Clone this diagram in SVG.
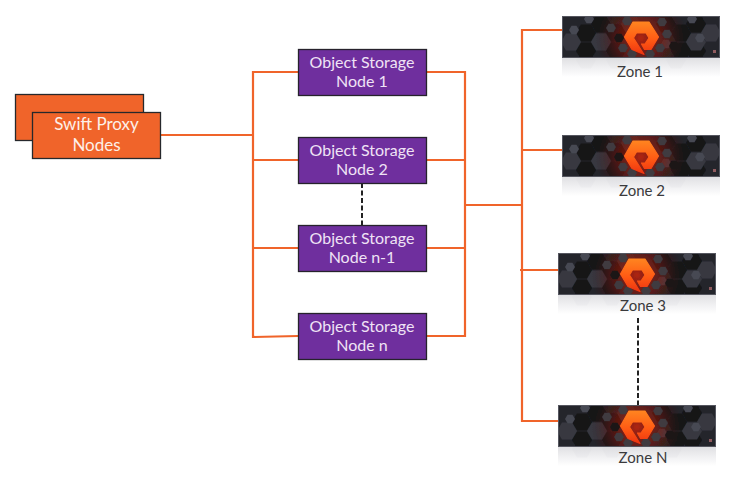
<svg xmlns="http://www.w3.org/2000/svg" width="736" height="490" viewBox="0 0 736 490">
<style>
.orange{fill:#f0642a;stroke:#26282c;stroke-width:1.3}
.purple{fill:#6f2f9e;stroke:#26222c;stroke-width:1.3}
.lbl{font-family:"Lato","Open Sans",sans-serif;font-size:16px;text-anchor:middle}
.big{font-size:17px}
.w{fill:#fdf0e8}
.p{fill:#efe3f5}
.z{font-family:"Lato","Open Sans",sans-serif;font-size:15px;text-anchor:middle;fill:#3a3a3c}
.wire{fill:none;stroke:#f0642a;stroke-width:2.200}
.dash{fill:none;stroke:#222;stroke-width:2;stroke-dasharray:5 2.5}
</style>
<defs>
<polygon id="h" points="-10,0 -5,-8.4 5,-8.4 10,0 5,8.4 -5,8.4"/>
<polygon id="s" points="-5,0 -2.500,-4.300 2.500,-4.300 5,0 2.500,4.300 -2.500,4.300"/>
<radialGradient id="glow" gradientUnits="userSpaceOnUse" cx="79" cy="22" r="46">
<stop offset="0" stop-color="#c0240c" stop-opacity=".9"/><stop offset=".5" stop-color="#7a180c" stop-opacity=".6"/><stop offset="1" stop-color="#3a1014" stop-opacity="0"/>
</radialGradient>
<linearGradient id="logo" x1="0" y1="0" x2="0" y2="1">
<stop offset="0" stop-color="#ff8420"/><stop offset=".55" stop-color="#ff5a14"/><stop offset="1" stop-color="#ee3410"/>
</linearGradient>
<linearGradient id="refl" x1="0" y1="0" x2="0" y2="1">
<stop offset="0" stop-color="#dedee1" stop-opacity=".95"/><stop offset=".55" stop-color="#f0f0f2" stop-opacity=".9"/><stop offset="1" stop-color="#fff"/>
</linearGradient>
<filter id="soft" x="-5%" y="-5%" width="110%" height="110%"><feGaussianBlur stdDeviation=".6"/></filter>
<clipPath id="face"><rect width="158" height="42"/></clipPath>
<g id="array">
<g fill="#d2d2d6"><use href="#h" x="24" y="44"/><use href="#h" x="54" y="44"/><use href="#h" x="114" y="44"/></g>
<rect y="42" width="158" height="19" fill="url(#refl)"/>
<rect width="158" height="42" fill="#24252b"/>
<g clip-path="url(#face)" filter="url(#soft)">
<g fill="#141519">
<use href="#h" x="39" y="8"/><use href="#h" x="24" y="17"/><use href="#h" x="24" y="35"/><use href="#h" x="54" y="17"/><use href="#h" x="54" y="35"/>
<use href="#h" x="104" y="8"/><use href="#h" x="119" y="17"/><use href="#h" x="134" y="8"/><use href="#h" x="134" y="35"/><use href="#h" x="119" y="35"/>
</g>
<g fill="#373840">
<use href="#h" x="9" y="26"/><use href="#h" x="39" y="26"/><use href="#h" x="69" y="8"/><use href="#h" x="134" y="26"/><use href="#h" x="149" y="17"/>
</g>
<g fill="#474852">
<use href="#s" x="27" y="3"/><use href="#s" x="12" y="14"/><use href="#s" x="130" y="3"/><use href="#s" x="138" y="22"/><use href="#s" x="104" y="28"/>
</g>
<rect width="158" height="42" fill="url(#glow)"/>
<g fill="#3f3a40">
<use href="#s" x="49" y="12"/><use href="#s" x="61" y="32"/><use href="#s" x="65" y="5"/><use href="#s" x="57" y="22" fill="#1b1416"/><use href="#s" x="100" y="6"/><use href="#s" x="105" y="18"/><use href="#s" x="98" y="32"/><use href="#s" x="88" y="38"/><use href="#s" x="70" y="38"/><use href="#s" x="112" y="30" fill="#1b1416"/>
</g>
</g>
<path d="M82,38.500 L70,33.500 L62.500,21 L71,6 L87,6 L96.500,21 L89,33.500 L82.500,33.500 L79.500,28 L83,28 L87,22 L84,17 L74.500,17 L71.500,22 Z" fill="url(#logo)" stroke="url(#logo)" stroke-width="1.200" stroke-linejoin="round"/>
<rect x="151" y="34" width="3" height="3" fill="#8f5a5e"/>
<rect x=".5" y=".5" width="157" height="41" fill="none" stroke="#55565f" stroke-width="1"/>
</g>
</defs>
<rect width="736" height="490" fill="#fff"/>
<g id="connectors">
<path class="wire" d="M161,135H253M298,72H253V337L298,336M253,160H298M253,248H298"/>
<path class="wire" d="M427,72H465V336H427M427,160H465M427,248H465M465,205H522"/>
<path class="wire" d="M562,30H522V421H562M522,150H562M520,270H559"/>
<path class="dash" d="M362,183V225"/>
<path class="dash" d="M638,318V405"/>
</g>
<g id="proxy-back"><rect class="orange" x="15.500" y="94.500" width="128" height="46"/></g>
<g id="proxy"><rect class="orange" x="32.500" y="112.500" width="128" height="46"/><text class="lbl big w" x="96.500" y="130">Swift Proxy</text><text class="lbl big w" x="96.500" y="151">Nodes</text></g>
<g id="node-1"><rect class="purple" x="298.500" y="49.500" width="128" height="46"/><text class="lbl p" x="362" y="68">Object Storage</text><text class="lbl p" x="362" y="87">Node 1</text></g>
<g id="node-2"><rect class="purple" x="298.500" y="137.500" width="128" height="46"/><text class="lbl p" x="362" y="156">Object Storage</text><text class="lbl p" x="362" y="175">Node 2</text></g>
<g id="node-n-1"><rect class="purple" x="298.500" y="225.500" width="128" height="46"/><text class="lbl p" x="362" y="244">Object Storage</text><text class="lbl p" x="362" y="263">Node n-1</text></g>
<g id="node-n"><rect class="purple" x="298.500" y="313.500" width="128" height="46"/><text class="lbl p" x="362" y="332">Object Storage</text><text class="lbl p" x="362" y="351">Node n</text></g>
<g id="zone-1"><use href="#array" x="562" y="16"/><text class="z" x="640" y="77">Zone 1</text></g>
<g id="zone-2"><use href="#array" x="562" y="135"/><text class="z" x="642" y="196">Zone 2</text></g>
<g id="zone-3"><use href="#array" x="558" y="253"/><text class="z" x="643" y="311">Zone 3</text></g>
<g id="zone-n"><use href="#array" x="558" y="405"/><text class="z" x="643" y="463">Zone N</text></g>
</svg>
